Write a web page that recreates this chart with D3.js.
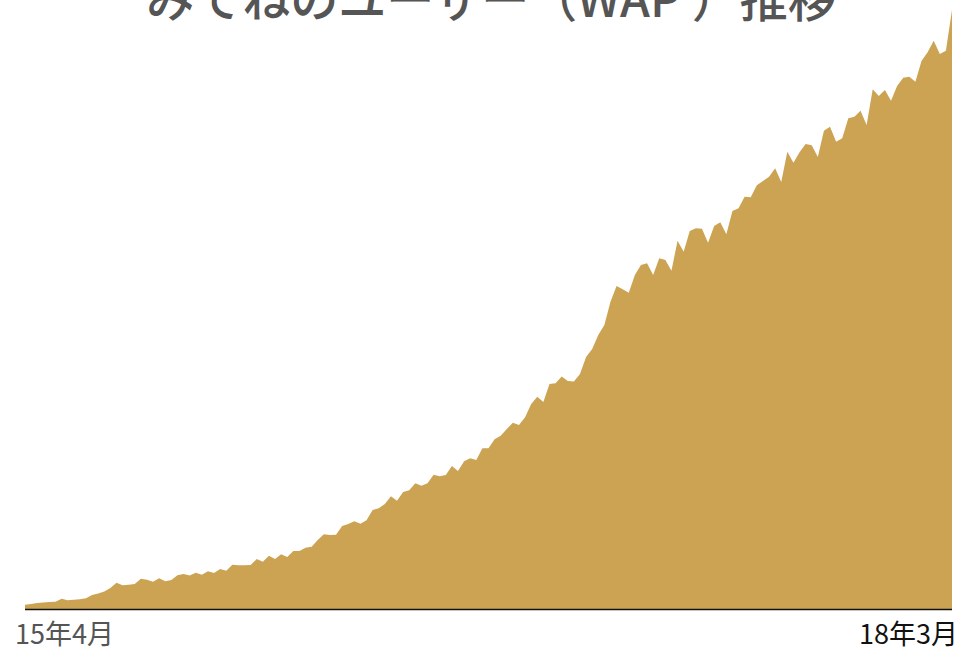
<!DOCTYPE html>
<html>
<head>
<meta charset="utf-8">
<script src="https://cdn.jsdelivr.net/npm/d3@7"></script>
<style>
  body { margin: 0; background: #fff; }
  svg { display: block; }
</style>
</head>
<body>
<div class="chart"></div>
<script>
var width = 958
var height = 649

var title = 'みてねのユーザー（WAP ）推移'

// weekly values, 15年4月 .. 18年3月 (arbitrary units)
var wau = [
    4.3, 5, 6, 6.5, 7, 7.3, 10.3, 8.7, 9.2, 9.8,
    10.7, 14, 15.5, 17.5, 21, 26.3, 23.7, 24.2, 25, 30.3,
    29.3, 27.3, 30.7, 27.7, 29, 33.7, 35, 33.5, 36.3, 34.3,
    37.7, 36, 40, 38.3, 44.3, 43.7, 43.8, 44, 50, 47.3,
    53.3, 50, 54.7, 52, 58, 58, 61.3, 62.3, 69, 74.7,
    74, 74.3, 83, 85, 87.7, 85.3, 88.7, 99, 100.7, 105,
    112.7, 108.3, 117, 118.7, 125.7, 123.3, 125.7, 134.3, 132.7, 134,
    143, 138, 147.7, 150.7, 149, 160.7, 160.7, 169.7, 173.3, 180,
    186.3, 184, 191.7, 205, 212.3, 207, 225, 225.7, 232.5, 228,
    227.5, 235, 252, 260, 274, 284, 307.3, 323, 319.7, 316.3,
    334, 344, 345.7, 334, 350.7, 349, 338.3, 368.3, 357.3, 378,
    380.7, 380.3, 366.3, 383, 386.7, 374.7, 398, 400.7, 412.3, 411.7,
    423.7, 428, 432.3, 440.7, 427, 457.3, 446.3, 456.7, 465, 463.7,
    452, 478.3, 482.3, 467.3, 470.7, 490.7, 492.3, 498.3, 484, 519.7,
    513, 519, 508.3, 523, 531.3, 532.3, 527.3, 548, 556.7, 568.3,
    555, 558.3, 599
]

var tickLabels = ['15年4月', '18年3月']
var tickColors = ['#555', '#111']

function drawChart() {
    var svg = d3.select('.chart').append('svg')
        .attr('width', width)
        .attr('height', height)

    var x = d3.scaleLinear().domain([0, wau.length - 1]).range([25, 952])
    var y = d3.scaleLinear().domain([0, 600]).range([609, 9])

    var area = d3.area()
        .x(function (d, i) { return x(i) })
        .y0(y(0))
        .y1(function (d) { return y(d) })

    svg.append('path')
        .datum(wau)
        .attr('d', area)
        .attr('fill', '#cba352')

    // baseline
    svg.append('line')
        .attr('x1', x(0)).attr('x2', x(wau.length - 1))
        .attr('y1', 609.5).attr('y2', 609.5)
        .attr('stroke', '#111')
        .attr('stroke-width', 1.5)

    // only first and last month are labelled
    svg.selectAll('.tick-label')
        .data(tickLabels)
        .enter()
        .append('text')
        .attr('class', 'tick-label')
        .attr('x', function (d, i) { return i === 0 ? 15 : 958 })
        .attr('y', 644)
        .attr('text-anchor', function (d, i) { return i === 0 ? 'start' : 'end' })
        .attr('fill', function (d, i) { return tickColors[i] })
        .style('font-family', '"Noto Sans CJK JP", sans-serif')
        .style('font-size', '27px')
        .text(function (d) { return d })

    svg.append('text')
        .attr('x', 491)
        .attr('y', 17)
        .attr('text-anchor', 'middle')
        .attr('fill', '#555')
        .style('font-family', '"Noto Sans CJK JP", sans-serif')
        .style('font-size', '48px')
        .style('font-weight', '500')
        .text(title)
}

drawChart()
</script>
</body>
</html>
